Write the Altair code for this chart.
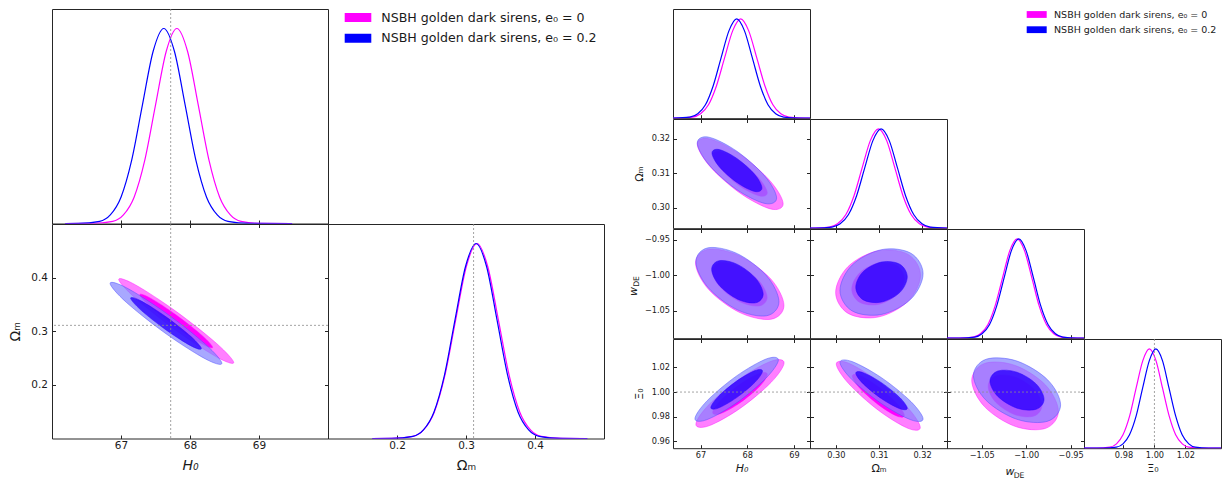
import altair as alt
import pandas as pd

FONT = "DejaVu Sans"
INK = "#262626"
TXT = "#1a1a1a"
MAG = "#ff00ff"
BLU = "#0000ff"
TICK = 3.5

legend_labels = ["NSBH golden dark sirens, e\u2080 = 0", "NSBH golden dark sirens, e\u2080 = 0.2"]
legend_colors = [MAG, BLU]

truth_h0 = 67.72
truth_om = 0.311
truth_xi0 = 1.0

# ---------------- left figure: 1D marginals (H0, Omega_m) ----------------
l_h0_blue_x = [66.19, 66.38, 66.69, 66.845, 67.00, 67.155, 67.31, 67.465, 67.62, 67.775, 67.93, 68.085, 68.24, 68.395, 68.55, 68.86, 69.48]
l_h0_blue_y = [0, 0.0003, 0.011, 0.044, 0.135, 0.325, 0.607, 0.882, 1.0, 0.882, 0.607, 0.325, 0.135, 0.044, 0.011, 0.0003, 0]
l_h0_mag_x = [66.19, 66.57, 66.88, 67.035, 67.19, 67.345, 67.50, 67.655, 67.81, 67.965, 68.12, 68.275, 68.43, 68.585, 68.74, 69.05, 69.48]
l_h0_mag_y = [0, 0.0003, 0.011, 0.044, 0.135, 0.325, 0.607, 0.882, 1.0, 0.882, 0.607, 0.325, 0.135, 0.044, 0.011, 0.0003, 0]
l_om_blue_x = [0.164, 0.1925, 0.223, 0.2383, 0.2535, 0.2688, 0.284, 0.2993, 0.3145, 0.3298, 0.345, 0.3603, 0.3755, 0.3908, 0.406, 0.4365, 0.476]
l_om_blue_y = [0, 0.0003, 0.011, 0.044, 0.135, 0.325, 0.607, 0.882, 1.0, 0.882, 0.607, 0.325, 0.135, 0.044, 0.011, 0.0003, 0]
l_om_mag_x = [0.164, 0.192, 0.223, 0.2385, 0.254, 0.2695, 0.285, 0.3005, 0.316, 0.3315, 0.347, 0.3625, 0.378, 0.3935, 0.409, 0.440, 0.476]
l_om_mag_y = [0, 0.0003, 0.011, 0.044, 0.135, 0.325, 0.607, 0.882, 1.0, 0.882, 0.607, 0.325, 0.135, 0.044, 0.011, 0.0003, 0]

# ---------------- left figure: 2D contours H0 - Omega_m ----------------
l_b_out_x = [68.462, 68.225, 67.652, 67.079, 66.842, 67.079, 67.652, 68.225]
l_b_out_y = [0.2402, 0.2757, 0.3340, 0.3811, 0.3892, 0.3537, 0.2954, 0.2483]
l_b_in_x = [68.165, 68.015, 67.652, 67.289, 67.139, 67.289, 67.652, 68.015]
l_b_in_y = [0.2676, 0.2900, 0.3269, 0.3567, 0.3618, 0.3394, 0.3025, 0.2727]
l_m_out_x = [68.634, 68.389, 67.800, 67.211, 66.967, 67.211, 67.800, 68.389]
l_m_out_y = [0.2416, 0.2768, 0.3368, 0.3864, 0.3966, 0.3614, 0.3015, 0.2518]
l_m_in_x = [68.328, 68.173, 67.800, 67.427, 67.272, 67.427, 67.800, 68.173]
l_m_in_y = [0.2701, 0.2923, 0.3303, 0.3617, 0.3681, 0.3459, 0.3079, 0.2765]

# ---------------- right figure: 1D marginals ----------------
r_h0_blue_x = [66.41, 66.77, 66.94, 67.105, 67.27, 67.44, 67.61, 67.775, 67.94, 68.11, 68.28, 68.445, 68.61, 68.78, 69.115, 69.345]
r_h0_blue_y = [0.0002, 0.011, 0.044, 0.135, 0.325, 0.607, 0.882, 1.0, 0.882, 0.607, 0.325, 0.135, 0.044, 0.011, 0.0003, 0]
r_h0_mag_x = [66.41, 66.825, 67.0, 67.17, 67.34, 67.515, 67.69, 67.86, 68.03, 68.205, 68.38, 68.55, 68.72, 68.895, 69.24, 69.345]
r_h0_mag_y = [0.0001, 0.011, 0.044, 0.135, 0.325, 0.607, 0.882, 1.0, 0.882, 0.607, 0.325, 0.135, 0.044, 0.011, 0.0003, 0.0001]
r_om_blue_x = [0.294, 0.2953, 0.2991, 0.301, 0.3029, 0.3048, 0.3067, 0.3086, 0.3105, 0.3124, 0.3143, 0.3162, 0.3181, 0.32, 0.3219, 0.3258]
r_om_blue_y = [0, 0.0003, 0.011, 0.044, 0.135, 0.325, 0.607, 0.882, 1.0, 0.882, 0.607, 0.325, 0.135, 0.044, 0.011, 0.0003]
r_om_mag_x = [0.294, 0.2947, 0.2985, 0.3004, 0.3023, 0.3042, 0.3061, 0.308, 0.3099, 0.3118, 0.3137, 0.3156, 0.3175, 0.3194, 0.3213, 0.3251, 0.3258]
r_om_mag_y = [0.0001, 0.0003, 0.011, 0.044, 0.135, 0.325, 0.607, 0.882, 1.0, 0.882, 0.607, 0.325, 0.135, 0.044, 0.011, 0.0003, 0.0001]
r_w_blue_x = [-1.089, -1.0743, -1.0578, -1.0496, -1.0413, -1.0331, -1.0248, -1.0166, -1.0083, -1.0001, -0.9918, -0.9836, -0.9753, -0.9671, -0.9588, -0.9423, -0.935]
r_w_blue_y = [0, 0.0003, 0.011, 0.044, 0.135, 0.325, 0.607, 0.882, 1.0, 0.882, 0.607, 0.325, 0.135, 0.044, 0.011, 0.0003, 0.0001]
r_w_mag_x = [-1.089, -1.0761, -1.0596, -1.0514, -1.0431, -1.0349, -1.0266, -1.0184, -1.0101, -1.0019, -0.9936, -0.9854, -0.9771, -0.9689, -0.9606, -0.9441, -0.935]
r_w_mag_y = [0, 0.0003, 0.011, 0.044, 0.135, 0.325, 0.607, 0.882, 1.0, 0.882, 0.607, 0.325, 0.135, 0.044, 0.011, 0.0003, 0.0001]
r_xi_blue_x = [0.9545, 0.9669, 0.9754, 0.9797, 0.9839, 0.9882, 0.9924, 0.9967, 1.0009, 1.0052, 1.0094, 1.0137, 1.0179, 1.0222, 1.0264, 1.0349, 1.043]
r_xi_blue_y = [0, 0.0003, 0.011, 0.044, 0.135, 0.325, 0.607, 0.882, 1.0, 0.882, 0.607, 0.325, 0.135, 0.044, 0.011, 0.0003, 0]
r_xi_mag_x = [0.9545, 0.9627, 0.9712, 0.9755, 0.9797, 0.984, 0.9882, 0.9925, 0.9967, 1.001, 1.0052, 1.0095, 1.0137, 1.018, 1.0222, 1.0307, 1.043]
r_xi_mag_y = [0, 0.0003, 0.011, 0.044, 0.135, 0.325, 0.607, 0.882, 1.0, 0.882, 0.607, 0.325, 0.135, 0.044, 0.011, 0.0003, 0]

# ---------------- right figure: 2D contours ----------------
# Omega_m vs H0
r_omh_b_out_x = [68.63, 68.381, 67.78, 67.179, 66.93, 67.179, 67.78, 68.381]
r_omh_b_out_y = [0.3028, 0.3091, 0.3164, 0.3205, 0.3188, 0.3125, 0.3052, 0.3012]
r_omh_b_in_x = [68.316, 68.159, 67.78, 67.401, 67.245, 67.401, 67.78, 68.159]
r_omh_b_in_y = [0.3057, 0.3097, 0.3143, 0.3169, 0.3159, 0.3119, 0.3073, 0.3047]
r_omh_m_out_x = [68.77, 68.501, 67.85, 67.20, 66.93, 67.20, 67.85, 68.501]
r_omh_m_out_y = [0.3011, 0.3076, 0.3155, 0.3200, 0.3185, 0.3120, 0.3042, 0.2996]
r_omh_m_in_x = [68.43, 68.26, 67.85, 67.44, 67.27, 67.44, 67.85, 68.26]
r_omh_m_in_y = [0.3043, 0.3084, 0.3134, 0.3162, 0.3153, 0.3112, 0.3062, 0.3034]
# w_DE vs H0
r_wh_b_out_x = [68.68, 68.419, 67.79, 67.161, 66.90, 67.161, 67.79, 68.419]
r_wh_b_out_y = [-1.0376, -1.0013, -0.9698, -0.9615, -0.9812, -1.0175, -1.0490, -1.0573]
r_wh_b_in_x = [68.342, 68.18, 67.79, 67.40, 67.238, 67.40, 67.79, 68.18]
r_wh_b_in_y = [-1.0269, -1.0044, -0.9849, -0.9797, -0.9919, -1.0144, -1.0339, -1.0391]
r_wh_m_out_x = [68.787, 68.51, 67.84, 67.17, 66.893, 67.17, 67.84, 68.51]
r_wh_m_out_y = [-1.0428, -1.0058, -0.9730, -0.9635, -0.9830, -1.0200, -1.0528, -1.0623]
r_wh_m_in_x = [68.427, 68.255, 67.84, 67.425, 67.253, 67.425, 67.84, 68.255]
r_wh_m_in_y = [-1.0314, -1.0085, -0.9882, -0.9823, -0.9944, -1.0173, -1.0376, -1.0435]
# Xi0 vs H0
r_xh_b_out_x = [68.668, 68.406, 67.774, 67.142, 66.88, 67.142, 67.774, 68.406]
r_xh_b_out_y = [1.0260, 1.0268, 1.0131, 0.9930, 0.9784, 0.9777, 0.9913, 1.0114]
r_xh_b_in_x = [68.328, 68.166, 67.774, 67.382, 67.22, 67.382, 67.774, 68.166]
r_xh_b_in_y = [1.0170, 1.0174, 1.0089, 0.9965, 0.9874, 0.9870, 0.9955, 1.0079]
r_xh_m_out_x = [68.79, 68.513, 67.845, 67.177, 66.90, 67.177, 67.845, 68.513]
r_xh_m_out_y = [1.0237, 1.0250, 1.0109, 0.9897, 0.9739, 0.9726, 0.9867, 1.0079]
r_xh_m_in_x = [68.431, 68.259, 67.845, 67.431, 67.259, 67.431, 67.845, 68.259]
r_xh_m_in_y = [1.0143, 1.0150, 1.0063, 0.9932, 0.9834, 0.9826, 0.9913, 1.0044]
# w_DE vs Omega_m
r_wo_b_out_x = [0.32025, 0.31742, 0.3106, 0.30378, 0.30095, 0.30378, 0.3106, 0.31742]
r_wo_b_out_y = [-0.9980, -0.9692, -0.9641, -0.9858, -1.0216, -1.0505, -1.0555, -1.0338]
r_wo_b_in_x = [0.31658, 0.31483, 0.3106, 0.30637, 0.30462, 0.30637, 0.3106, 0.31483]
r_wo_b_in_y = [-1.0025, -0.9846, -0.9815, -0.9949, -1.0171, -1.0350, -1.0381, -1.0247]
r_wo_m_out_x = [0.31965, 0.31677, 0.3098, 0.30284, 0.29995, 0.30284, 0.3098, 0.31677]
r_wo_m_out_y = [-1.0003, -0.9708, -0.9657, -0.9879, -1.0245, -1.0540, -1.0592, -1.0369]
r_wo_m_in_x = [0.31591, 0.31412, 0.3098, 0.30548, 0.30369, 0.30548, 0.3098, 0.31412]
r_wo_m_in_y = [-1.0049, -0.9866, -0.9834, -0.9972, -1.0199, -1.0382, -1.0414, -1.0276]
# Xi0 vs Omega_m
r_xo_b_out_x = [0.32025, 0.31742, 0.3106, 0.30378, 0.30095, 0.30378, 0.3106, 0.31742]
r_xo_b_out_y = [0.9782, 0.9923, 1.0116, 1.0247, 1.0240, 1.0099, 0.9906, 0.9775]
r_xo_b_in_x = [0.31658, 0.31483, 0.3106, 0.30637, 0.30462, 0.30637, 0.3106, 0.31483]
r_xo_b_in_y = [0.9869, 0.9956, 1.0076, 1.0157, 1.0153, 1.0066, 0.9946, 0.9865]
r_xo_m_out_x = [0.3196, 0.31674, 0.30985, 0.30296, 0.3001, 0.30296, 0.30985, 0.31674]
r_xo_m_out_y = [0.9713, 0.9871, 1.0087, 1.0234, 1.0227, 1.0069, 0.9853, 0.9706]
r_xo_m_in_x = [0.3159, 0.31412, 0.30985, 0.30558, 0.30381, 0.30558, 0.30985, 0.31412]
r_xo_m_in_y = [0.9811, 0.9909, 1.0043, 1.0134, 1.0129, 1.0031, 0.9898, 0.9806]
# Xi0 vs w_DE
r_xw_b_out_x = [-0.9613, -0.9757, -1.0103, -1.0450, -1.0593, -1.0450, -1.0103, -0.9757]
r_xw_b_out_y = [0.9896, 1.0098, 1.0251, 1.0266, 1.0134, 0.9932, 0.9779, 0.9764]
r_xw_b_in_x = [-0.9799, -0.9888, -1.0103, -1.0318, -1.0407, -1.0318, -1.0103, -0.9888]
r_xw_b_in_y = [0.9941, 1.0066, 1.0161, 1.0171, 1.0089, 0.9964, 0.9869, 0.9860]
r_xw_m_out_x = [-0.9638, -0.9781, -1.0125, -1.0469, -1.0612, -1.0469, -1.0125, -0.9781]
r_xw_m_out_y = [0.9844, 1.0056, 1.0216, 1.0232, 1.0094, 0.9882, 0.9722, 0.9706]
r_xw_m_in_x = [-0.9823, -0.9912, -1.0125, -1.0339, -1.0427, -1.0339, -1.0125, -0.9912]
r_xw_m_in_y = [0.9892, 1.0023, 1.0122, 1.0132, 1.0046, 0.9915, 0.9816, 0.9806]

# ---------------- helpers ----------------
CURVE = dict(strokeWidth=1.2, interpolate="monotone", clip=True)
STYLES = {
    "m_out": dict(fill=MAG, fillOpacity=0.5, stroke=MAG, strokeOpacity=0.7, strokeWidth=0.6),
    "m_in": dict(fill=MAG, fillOpacity=1.0, stroke=MAG, strokeOpacity=0.8, strokeWidth=0.6),
    "b_out": dict(fill="#7f7fff", fillOpacity=0.68, stroke="#4d4dff", strokeOpacity=0.8, strokeWidth=0.6),
    "b_in": dict(fill="#2a00ff", fillOpacity=0.8, stroke="#2a00ff", strokeOpacity=0.8, strokeWidth=0.6),
}
Y1D = alt.Scale(domain=[0, 1.1], nice=False, zero=False)


def sc(lo, hi):
    return alt.Scale(domain=[lo, hi], nice=False, zero=False)


def axis(orient, values, fmt, labels, title, lfs, tfs, lpad, tpad, italic=False):
    kw = dict(orient=orient, values=values, labels=labels, domain=False, grid=False,
              ticks=True, tickSize=TICK, offset=-TICK, tickColor=INK, tickWidth=1,
              labelFont=FONT, labelFontSize=lfs, labelColor=TXT, labelPadding=lpad,
              labelFlush=False, labelOverlap=False,
              titleFont=FONT, titleFontSize=tfs, titleFontWeight="normal",
              titleColor=TXT, titlePadding=tpad, title=title, format=fmt)
    if italic:
        kw["titleFontStyle"] = "italic"
    return alt.Axis(**kw)


def cell_1d(curves, xscale, xaxis, W, H, truth=None):
    layers = []
    for xs, ys, col in curves:
        layers.append(alt.Chart(pd.DataFrame({"x": xs, "y": ys})).mark_line(color=col, **CURVE).encode(
            x=alt.X("x:Q", scale=xscale, axis=xaxis),
            y=alt.Y("y:Q", scale=Y1D, axis=None)))
    if truth is not None:
        layers.append(alt.Chart(pd.DataFrame({"x": [truth]})).mark_rule(
            color="#8c8c8c", strokeDash=[2, 2], strokeWidth=0.8).encode(
            x=alt.X("x:Q", scale=xscale, axis=xaxis)))
    return alt.layer(*layers).properties(width=W, height=H)


def wde_title(rotated, W, H):
    """Axis title w_DE drawn as text: italic w with a lowered, smaller DE."""
    base = alt.Chart(pd.DataFrame({"x": [0]}))
    if rotated:
        w = base.mark_text(text="w", angle=270, align="left", baseline="alphabetic", font=FONT,
                           fontSize=11, fontStyle="italic", color=TXT).encode(
            x=alt.value(-36.3), y=alt.value(H / 2 + 12.5))
        de = base.mark_text(text="DE", angle=270, align="left", baseline="alphabetic", font=FONT,
                            fontSize=7.7, color=TXT).encode(
            x=alt.value(-34.0), y=alt.value(H / 2 + 3.2))
    else:
        w = base.mark_text(text="w", align="left", baseline="alphabetic", font=FONT,
                           fontSize=11, fontStyle="italic", color=TXT).encode(
            x=alt.value(W / 2 - 10), y=alt.value(H + 27.2))
        de = base.mark_text(text="DE", align="left", baseline="alphabetic", font=FONT,
                            fontSize=7.7, color=TXT).encode(
            x=alt.value(W / 2 - 1.8), y=alt.value(H + 29.6))
    return [w, de]


def cell_2d(contours, xscale, yscale, axb, axl, axt, axr, W, H, tx=None, ty=None, extra=()):
    layers = []
    for k, (key, xs, ys) in enumerate(contours):
        df = pd.DataFrame({"x": xs, "y": ys, "i": list(range(len(xs)))})
        layers.append(alt.Chart(df).mark_line(filled=True, interpolate="cardinal-closed", clip=True,
                                              **STYLES[key]).encode(
            x=alt.X("x:Q", scale=xscale, axis=axb if k == 0 else None),
            y=alt.Y("y:Q", scale=yscale, axis=axl if k == 0 else None),
            order=alt.Order("i:Q")))
    rule = dict(color="#8c8c8c", strokeDash=[2, 2], strokeWidth=0.8)
    if tx is not None:
        layers.append(alt.Chart(pd.DataFrame({"x": [tx]})).mark_rule(**rule).encode(
            x=alt.X("x:Q", scale=xscale, axis=None)))
    if ty is not None:
        layers.append(alt.Chart(pd.DataFrame({"y": [ty]})).mark_rule(**rule).encode(
            y=alt.Y("y:Q", scale=yscale, axis=None)))
    d0 = pd.DataFrame({"x": contours[0][1], "y": contours[0][2]})
    layers.append(alt.Chart(d0).mark_point(opacity=0).encode(
        x=alt.X("x:Q", scale=xscale, axis=axt),
        y=alt.Y("y:Q", scale=yscale, axis=axr)))
    layers.extend(extra)
    return alt.layer(*layers).resolve_axis(x="independent", y="independent").properties(width=W, height=H)


def empty(W, H):
    return alt.Chart(pd.DataFrame({"x": [0], "y": [0]})).mark_point(opacity=0).encode(
        x=alt.X("x:Q", axis=None), y=alt.Y("y:Q", axis=None)).properties(
        width=W, height=H, view=alt.ViewBackground(stroke="transparent"))


def legend_cell(W, H, sw_x, sw_w, sw_h, ys, text_x, fs):
    base = alt.Chart(pd.DataFrame({"x": [0]}))
    layers = []
    for label, col, y in zip(legend_labels, legend_colors, ys):
        layers.append(base.mark_rect(color=col).encode(
            x=alt.value(sw_x), x2=alt.value(sw_x + sw_w),
            y=alt.value(y - sw_h / 2), y2=alt.value(y + sw_h / 2)))
        layers.append(base.mark_text(text=label, align="left", baseline="middle", font=FONT,
                                     fontSize=fs, color=TXT).encode(
            x=alt.value(text_x), y=alt.value(y)))
    return alt.layer(*layers).properties(width=W, height=H, view=alt.ViewBackground(stroke="transparent"))


# ---------------- left figure ----------------
LW, LH = 276, 214.5
LFS, LTFS = 10.5, 14
lh0 = sc(66.0, 70.0)
lom = sc(0.1, 0.5)
t_lh0 = [67, 68, 69]
t_lom = [0.2, 0.3, 0.4]
OM = "\u03a9\u2098"
H0 = "H\u2080"
XI = "\u039e\u2080"

c00 = cell_1d([(l_h0_mag_x, l_h0_mag_y, MAG), (l_h0_blue_x, l_h0_blue_y, BLU)], lh0,
              axis("bottom", t_lh0, "d", False, None, LFS, LTFS, 2, 7), LW, LH, truth=truth_h0)
c01 = legend_cell(LW, LH, 16.7, 26.6, 9, [8.5, 29.3], 53.3, 12.6)
c10 = cell_2d([("m_out", l_m_out_x, l_m_out_y), ("m_in", l_m_in_x, l_m_in_y),
               ("b_out", l_b_out_x, l_b_out_y), ("b_in", l_b_in_x, l_b_in_y)],
              lh0, lom,
              axis("bottom", t_lh0, "d", True, H0, LFS, LTFS, 2, 7, italic=True),
              axis("left", t_lom, ".1f", True, OM, LFS, LTFS, 4.5, 8),
              axis("top", t_lh0, "d", False, None, LFS, LTFS, 2, 7),
              axis("right", t_lom, ".1f", False, None, LFS, LTFS, 2, 7),
              LW, LH, tx=truth_h0, ty=truth_om)
c11 = cell_1d([(l_om_mag_x, l_om_mag_y, MAG), (l_om_blue_x, l_om_blue_y, BLU)], lom,
              axis("bottom", t_lom, ".1f", True, OM, LFS, LTFS, 2, 7), LW, LH, truth=truth_om)
left_fig = alt.concat(c00, c01, c10, c11, columns=2, spacing=0, bounds="flush")

# ---------------- right figure ----------------
RW, RH = 137, 109.2
RFS, RTFS = 8.2, 11
XP, YP, XT, YT = 3, 3.5, 4, 7
rh0 = sc(66.41, 69.345)
rom = sc(0.294, 0.3258)
rw = sc(-1.089, -0.935)
rxi = sc(0.9545, 1.043)
t_h0 = [67, 68, 69]
t_om = [0.30, 0.31, 0.32]
t_w = [-1.05, -1.00, -0.95]
t_xi_y = [0.96, 0.98, 1.00, 1.02]
t_xi_x = [0.98, 1.00, 1.02]


def rax(orient, vals, fmt, labels=False, title=None, italic=False):
    pad = XP if orient in ("bottom", "top") else YP
    tp = XT if orient in ("bottom", "top") else YT
    return axis(orient, vals, fmt, labels, title, RFS, RTFS, pad, tp, italic=italic)


def quad(prefix):
    g = globals()
    return [("m_out", g[prefix + "_m_out_x"], g[prefix + "_m_out_y"]),
            ("m_in", g[prefix + "_m_in_x"], g[prefix + "_m_in_y"]),
            ("b_out", g[prefix + "_b_out_x"], g[prefix + "_b_out_y"]),
            ("b_in", g[prefix + "_b_in_x"], g[prefix + "_b_in_y"])]


r11 = cell_1d([(r_h0_mag_x, r_h0_mag_y, MAG), (r_h0_blue_x, r_h0_blue_y, BLU)], rh0,
              rax("bottom", t_h0, "d"), RW, RH)
r21 = cell_2d(quad("r_omh"), rh0, rom, rax("bottom", t_h0, "d"),
              rax("left", t_om, ".2f", True, OM), rax("top", t_h0, "d"), rax("right", t_om, ".2f"), RW, RH)
r22 = cell_1d([(r_om_mag_x, r_om_mag_y, MAG), (r_om_blue_x, r_om_blue_y, BLU)], rom,
              rax("bottom", t_om, ".2f"), RW, RH)
r31 = cell_2d(quad("r_wh"), rh0, rw, rax("bottom", t_h0, "d"),
              rax("left", t_w, ".2f", True, None), rax("top", t_h0, "d"), rax("right", t_w, ".2f"), RW, RH,
              extra=wde_title(True, RW, RH))
r32 = cell_2d(quad("r_wo"), rom, rw, rax("bottom", t_om, ".2f"),
              rax("left", t_w, ".2f"), rax("top", t_om, ".2f"), rax("right", t_w, ".2f"), RW, RH)
r33 = cell_1d([(r_w_mag_x, r_w_mag_y, MAG), (r_w_blue_x, r_w_blue_y, BLU)], rw,
              rax("bottom", t_w, ".2f"), RW, RH)
r41 = cell_2d(quad("r_xh"), rh0, rxi, rax("bottom", t_h0, "d", True, H0, italic=True),
              rax("left", t_xi_y, ".2f", True, XI), rax("top", t_h0, "d"), rax("right", t_xi_y, ".2f"),
              RW, RH, ty=truth_xi0)
r42 = cell_2d(quad("r_xo"), rom, rxi, rax("bottom", t_om, ".2f", True, OM),
              rax("left", t_xi_y, ".2f"), rax("top", t_om, ".2f"), rax("right", t_xi_y, ".2f"),
              RW, RH, ty=truth_xi0)
r43 = cell_2d(quad("r_xw"), rw, rxi, rax("bottom", t_w, ".2f", True, None),
              rax("left", t_xi_y, ".2f"), rax("top", t_w, ".2f"), rax("right", t_xi_y, ".2f"),
              RW, RH, ty=truth_xi0, extra=wde_title(False, RW, RH))
r44 = cell_1d([(r_xi_mag_x, r_xi_mag_y, MAG), (r_xi_blue_x, r_xi_blue_y, BLU)], rxi,
              rax("bottom", t_xi_x, ".2f", True, XI), RW, RH, truth=truth_xi0)

right_fig = alt.concat(
    r11, empty(RW, RH), legend_cell(RW, RH, 79.7, 20, 6.8, [5.5, 20.7], 107, 9.5), empty(RW, RH),
    r21, r22, empty(RW, RH), empty(RW, RH),
    r31, r32, r33, empty(RW, RH),
    r41, r42, r43, r44,
    columns=4, spacing=0, bounds="flush")

chart = alt.hconcat(left_fig, right_fig, spacing=22).properties(
    padding={"left": 0, "top": 0, "right": 0, "bottom": 0}
).configure(font=FONT).configure_view(stroke=INK, strokeWidth=1)

chart.save("out.html", embed_options={"renderer": "svg", "actions": False})
